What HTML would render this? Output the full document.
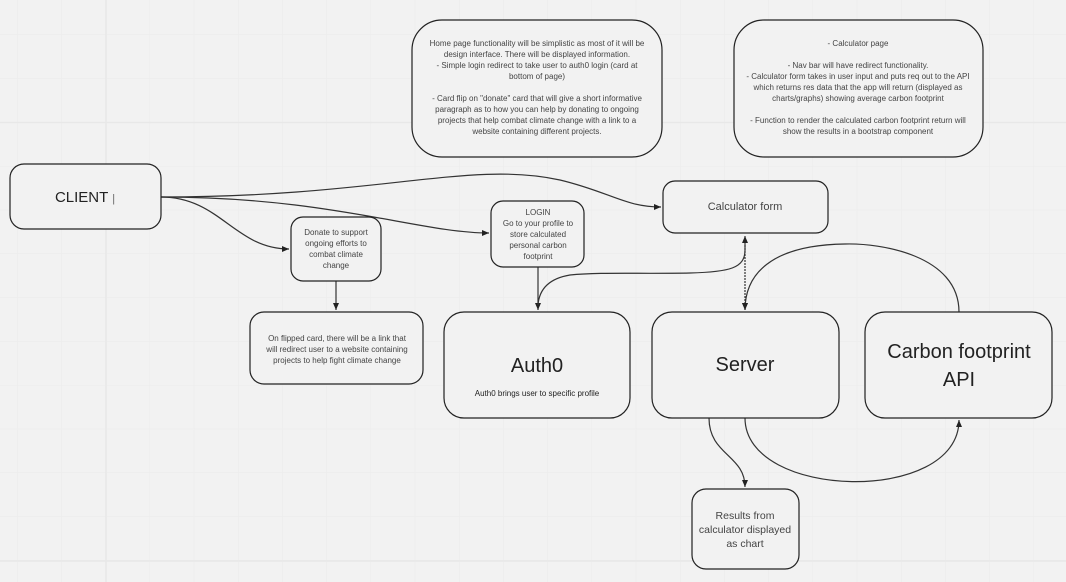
<!DOCTYPE html>
<html><head><meta charset="utf-8"><style>
html,body{margin:0;padding:0;background:#f2f2f2;}
svg{display:block;font-family:"Liberation Sans",sans-serif;}
</style></head><body>
<svg width="1066" height="582" viewBox="0 0 1066 582" xmlns="http://www.w3.org/2000/svg">
<defs>
<pattern id="g" x="17" y="34.5" width="44.2" height="43.8" patternUnits="userSpaceOnUse">
<path d="M0 0V43.8M0 0H44.2" stroke="#ebebeb" stroke-width="1" fill="none"/>
</pattern>
<marker id="a" markerWidth="8" markerHeight="8" refX="7" refY="4" orient="auto" markerUnits="userSpaceOnUse">
<path d="M0,1 L7,4 L0,7 Z" fill="#222"/>
</marker>
</defs>
<rect width="1066" height="582" fill="#f2f2f2"/>
<rect width="1066" height="582" fill="url(#g)"/>
<g stroke="#e8e8e8" stroke-width="1.5"><line x1="106" y1="0" x2="106" y2="582"/><line x1="0" y1="122.5" x2="1066" y2="122.5"/><line x1="0" y1="561" x2="1066" y2="561"/></g>

<g fill="none" stroke="#333" stroke-width="1.2">
<path d="M161,197 C380,197 470,160 560,180 C610,192 625,207 661,207" marker-end="url(#a)"/>
<path d="M161,197 C220,197 235,249 289,249" marker-end="url(#a)"/>
<path d="M161,197 C330,197 420,233 489,233" marker-end="url(#a)"/>
<path d="M336,281 V310" marker-end="url(#a)"/>
<path d="M538,267 V310" marker-end="url(#a)"/>
<path d="M745,250 C745,268 730,272 690,273 C640,274 600,272 570,275 C546,279 539,292 538,305"/>
<path d="M745,250 V236" marker-end="url(#a)"/>
<path d="M745,245 V310" marker-end="url(#a)" stroke-dasharray="2,1"/>
<path d="M959,312 C959,255 880,243 845,244 C770,245 745,275 745,310" marker-end="url(#a)"/>
<path d="M709,418 C709,455 745,455 745,487" marker-end="url(#a)"/>
<path d="M745,418 C745,500 959,505 959,420" marker-end="url(#a)"/>
</g>

<g fill="#f2f2f2" stroke="#222" stroke-width="1.2">
<rect x="412" y="20" width="250" height="137" rx="30"/>
<rect x="734" y="20" width="249" height="137" rx="30"/>
<rect x="10" y="164" width="151" height="65" rx="14"/>
<rect x="291" y="217" width="90" height="64" rx="12"/>
<rect x="491" y="201" width="93" height="66" rx="12"/>
<rect x="663" y="181" width="165" height="52" rx="12"/>
<rect x="250" y="312" width="173" height="72" rx="14"/>
<rect x="444" y="312" width="186" height="106" rx="20"/>
<rect x="652" y="312" width="187" height="106" rx="20"/>
<rect x="865" y="312" width="187" height="106" rx="20"/>
<rect x="692" y="489" width="107" height="80" rx="14"/>
</g>

<g fill="#444" font-size="8" text-anchor="middle">
<text x="537" y="46">Home page functionality will be simplistic as most of it will be</text>
<text x="537" y="57">design interface. There will be displayed information.</text>
<text x="537" y="68">- Simple login redirect to take user to auth0 login (card at</text>
<text x="537" y="79">bottom of page)</text>
<text x="537" y="101">- Card flip on "donate" card that will give a short informative</text>
<text x="537" y="112">paragraph as to how you can help by donating to ongoing</text>
<text x="537" y="123">projects that help combat climate change with a link to a</text>
<text x="537" y="134">website containing different projects.</text>
<text x="858" y="46">- Calculator page</text>
<text x="858" y="68">- Nav bar will have redirect functionality.</text>
<text x="858" y="79">- Calculator form takes in user input and puts req out to the API</text>
<text x="858" y="90">which returns res data that the app will return (displayed as</text>
<text x="858" y="101">charts/graphs) showing average carbon footprint</text>
<text x="858" y="123">- Function to render the calculated carbon footprint return will</text>
<text x="858" y="134">show the results in a bootstrap component</text>
<text x="336" y="235">Donate to support</text>
<text x="336" y="246">ongoing efforts to</text>
<text x="336" y="257">combat climate</text>
<text x="336" y="268">change</text>
<text x="538" y="215">LOGIN</text>
<text x="538" y="226">Go to your profile to</text>
<text x="538" y="237">store calculated</text>
<text x="538" y="248">personal carbon</text>
<text x="538" y="259">footprint</text>
<text x="337" y="341">On flipped card, there will be a link that</text>
<text x="337" y="352">will redirect user to a website containing</text>
<text x="337" y="363">projects to help fight climate change</text>
<text x="537" y="396" fill="#222">Auth0 brings user to specific profile</text>
</g>
<g fill="#444" text-anchor="middle">
<text x="745" y="210" font-size="11">Calculator form</text>
<text x="745" y="519" font-size="10.5">Results from</text>
<text x="745" y="533" font-size="10.5">calculator displayed</text>
<text x="745" y="547" font-size="10.5">as chart</text>
</g>
<g fill="#222" text-anchor="middle">
<text x="85" y="202" font-size="15">CLIENT <tspan font-size="11" fill="#666">|</tspan></text>
<text x="537" y="372" font-size="20">Auth0</text>
<text x="745" y="371" font-size="20">Server</text>
<text x="959" y="358" font-size="20">Carbon footprint</text>
<text x="959" y="386" font-size="20">API</text>
</g>
</svg>
</body></html>
